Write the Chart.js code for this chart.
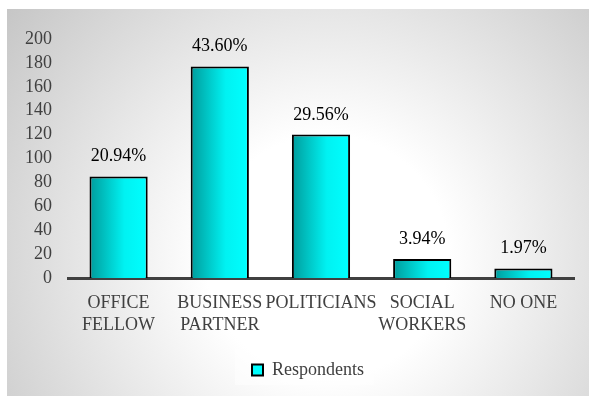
<!DOCTYPE html>
<html>
<head>
<meta charset="utf-8">
<script src="https://cdn.jsdelivr.net/npm/chart.js@4"></script>
<style>
    html, body { margin: 0; padding: 0; background: #fff; }
    #wrap { position: relative; width: 589px; height: 396px; overflow: hidden; }
    #frame {
        position: absolute; left: 7px; top: 9px; width: 582px; height: 387px;
        background: radial-gradient(circle at 55% 64%, #ffffff 0%, #ffffff 30%, #c6c6c6 100%);
    }
    #chart { position: absolute; left: 0; top: 0; }
</style>
</head>
<body>
<div id="wrap">
    <div id="frame"></div>
    <canvas id="chart" width="589" height="396"></canvas>
</div>
<script>
// Categories (multi-line labels)
const categories = [
    ['OFFICE', 'FELLOW'],
    ['BUSINESS', 'PARTNER'],
    ['POLITICIANS'],
    ['SOCIAL', 'WORKERS'],
    ['NO ONE']
];

// Number of respondents per category
const respondents = [85, 177, 120, 16, 8];

// Y axis ticks
const yMin = 0;
const yMax = 200;
const yStep = 20;

const serif = '"Liberation Serif", "Times New Roman", serif';
const barPct = 0.575;
const total = respondents.reduce((a, b) => a + b, 0);

// Horizontal teal-to-cyan shading for each bar
function barFill(context) {
    const chart = context.chart;
    const xs = chart.scales.x;
    if (context.type !== 'data' || !xs) return '#00f0f0';
    const c = xs.getPixelForValue(context.dataIndex);
    const w = xs.width / categories.length * barPct;
    if (!Number.isFinite(c) || !Number.isFinite(w)) return '#00f0f0';
    const g = chart.ctx.createLinearGradient(c - w / 2, 0, c + w / 2, 0);
    g.addColorStop(0, '#009c9c');
    g.addColorStop(0.6, '#00f2f2');
    g.addColorStop(1, '#00ffff');
    return g;
}

// Percent share written above each bar
const percentLabels = {
    id: 'percentLabels',
    afterDatasetsDraw(chart) {
        const ctx = chart.ctx;
        const meta = chart.getDatasetMeta(0);
        ctx.save();
        ctx.font = '18px ' + serif;
        ctx.fillStyle = '#000';
        ctx.textAlign = 'center';
        ctx.textBaseline = 'alphabetic';
        meta.data.forEach((bar, i) => {
            const pct = (respondents[i] / total * 100).toFixed(2) + '%';
            ctx.fillText(pct, bar.x, bar.y - 15);
        });
        ctx.restore();
    }
};

// Nudge the legend a little right, and put a faint lighter panel behind it
const legendPanel = {
    id: 'legendPanel',
    afterLayout(chart) {
        if (!chart.legend) return;
        chart.legend.left += 11;
        chart.legend.right += 11;
    },
    beforeDraw(chart) {
        const boxes = chart.legend && chart.legend.legendHitBoxes;
        if (!boxes || !boxes.length) return;
        const b = boxes[0];
        const ctx = chart.ctx;
        ctx.save();
        ctx.fillStyle = 'rgba(255,255,255,0.45)';
        ctx.fillRect(b.left - 17, b.top - 12, b.width + 27, b.height + 18);
        ctx.restore();
    }
};

const data = {
    labels: categories,
    datasets: [{
        label: 'Respondents',
        data: respondents,
        backgroundColor: barFill,
        borderColor: '#000',
        borderWidth: 2,
        borderSkipped: 'start',
        categoryPercentage: 1,
        barPercentage: barPct
    }]
};

const config = {
    type: 'bar',
    data: data,
    options: {
        responsive: false,
        animation: false,
        devicePixelRatio: 1,
        layout: {
            padding: { left: 20, right: 15, top: 39, bottom: 7 }
        },
        scales: {
            x: {
                grid: { display: false, drawTicks: false },
                border: { display: true, color: '#404040', width: 3 },
                ticks: {
                    color: '#404040',
                    font: { family: serif, size: 18, lineHeight: 1.22 },
                    padding: 14,
                    maxRotation: 0,
                    autoSkip: false
                },
                afterFit(scale) { scale.height = 73; }
            },
            y: {
                min: yMin,
                max: yMax,
                grid: { display: false, drawTicks: false },
                border: { display: false },
                ticks: {
                    stepSize: yStep,
                    autoSkip: false,
                    color: '#404040',
                    font: { family: serif, size: 18 },
                    padding: 16
                },
                afterFit(scale) { scale.width = 48; }
            }
        },
        plugins: {
            legend: {
                position: 'bottom',
                labels: {
                    boxWidth: 11,
                    boxHeight: 11,
                    padding: 10,
                    color: '#404040',
                    font: { family: serif, size: 18 }
                }
            },
            tooltip: { enabled: false }
        }
    },
    plugins: [legendPanel, percentLabels]
};

const respondentsChart = new Chart(document.getElementById('chart'), config);
</script>
</body>
</html>
